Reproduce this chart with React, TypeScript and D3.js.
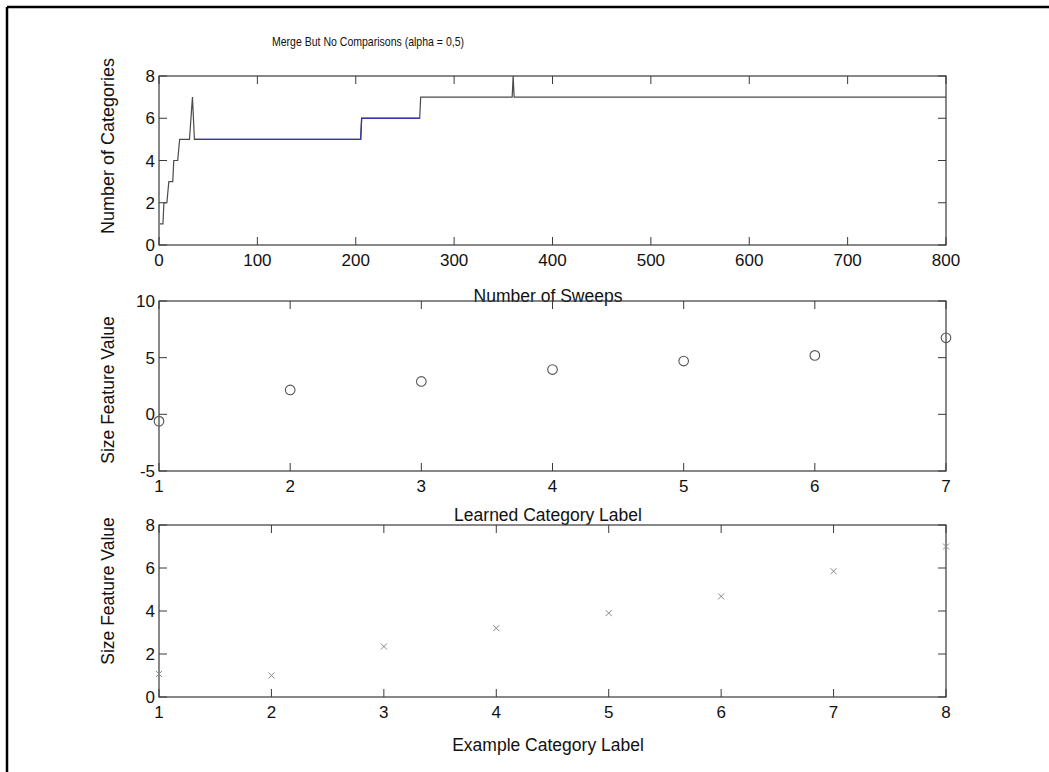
import React from "react";
import * as d3 from "d3";

// Top panel: number of categories over sweeps (trace vertices)
const sweepSteps = [1, 4, 5, 8, 10, 14, 15, 19, 21, 31, 34, 36, 205, 206, 265, 266, 359, 360, 361, 800];
const categoryCounts = [1, 1, 2, 2, 3, 3, 4, 4, 5, 5, 7, 5, 5, 6, 6, 7, 7, 8, 7, 7];
const sweepTicks = [0, 100, 200, 300, 400, 500, 600, 700, 800];
const categoryTicks = [0, 2, 4, 6, 8];

// Middle panel: size feature per learned category
const learnedLabels = [1, 2, 3, 4, 5, 6, 7];
const learnedSizes = [-0.6, 2.15, 2.9, 3.95, 4.7, 5.2, 6.75];
const learnedYTicks = [-5, 0, 5, 10];

// Bottom panel: size feature per example category
const exampleLabels = [1, 2, 3, 4, 5, 6, 7, 8];
const exampleSizes = [1.07, 1.0, 2.35, 3.2, 3.9, 4.68, 5.85, 7.0];
const exampleYTicks = [0, 2, 4, 6, 8];

const FONT = "'Liberation Sans', Arial, sans-serif";
const AXIS = "#3a3a3a";
const TICK_FS = 17;
const LABEL_FS = 17.5;
const X0 = 159;
const X1 = 946;

type Frame = {
  x: d3.ScaleLinear<number, number>;
  y: d3.ScaleLinear<number, number>;
  xTicks: number[];
  yTicks: number[];
};

function AxesBox({ x, y, xTicks, yTicks }: Frame) {
  const [xa, xb] = x.range();
  const [yb, ya] = y.range();
  const tl = 8;
  return (
    <g>
      <rect x={xa} y={ya} width={xb - xa} height={yb - ya} fill="none" stroke={AXIS} strokeWidth={1.2} />
      {xTicks.map((t) => (
        <g key={"x" + t}>
          <line x1={x(t)} x2={x(t)} y1={yb} y2={yb - tl} stroke={AXIS} />
          <line x1={x(t)} x2={x(t)} y1={ya} y2={ya + tl} stroke={AXIS} />
          <text x={x(t)} y={yb + 21} textAnchor="middle" fontSize={TICK_FS} fontFamily={FONT} fill="#111">
            {t}
          </text>
        </g>
      ))}
      {yTicks.map((t) => (
        <g key={"y" + t}>
          <line x1={xa} x2={xa + tl} y1={y(t)} y2={y(t)} stroke={AXIS} />
          <line x1={xb} x2={xb - tl} y1={y(t)} y2={y(t)} stroke={AXIS} />
          <text x={xa - 4} y={y(t) + 6} textAnchor="end" fontSize={TICK_FS} fontFamily={FONT} fill="#111">
            {t}
          </text>
        </g>
      ))}
    </g>
  );
}

function YLabel({ text, cy, size = LABEL_FS }: { text: string; cy: number; size?: number }) {
  return (
    <text
      transform={`translate(114,${cy}) rotate(-90)`}
      textAnchor="middle"
      fontSize={size}
      fontFamily={FONT}
      fill="#111"
    >
      {text}
    </text>
  );
}

export default function App() {
  // scales
  const xTop = d3.scaleLinear().domain([0, 800]).range([X0, X1]);
  const yTop = d3.scaleLinear().domain([0, 8]).range([245, 76]);
  const xMid = d3.scaleLinear().domain([1, 7]).range([X0, X1]);
  const yMid = d3.scaleLinear().domain([-5, 10]).range([471, 301]);
  const xBot = d3.scaleLinear().domain([1, 8]).range([X0, X1]);
  const yBot = d3.scaleLinear().domain([0, 8]).range([697, 525]);

  const trace = sweepSteps.map((s, i) => [s, categoryCounts[i]] as [number, number]);
  const line = d3
    .line<[number, number]>()
    .x((d) => xTop(d[0]))
    .y((d) => yTop(d[1]));
  // long plateaus at 5 and 6 categories rendered in blue
  const plateau = trace.filter((d) => d[0] >= 36 && d[0] <= 265);

  return (
    <svg
      width={1049}
      height={772}
      style={{ position: "absolute", left: 0, top: 0, background: "#fff" }}
    >
      <rect x={0} y={0} width={1049} height={772} fill="#fff" />
      {/* page frame */}
      <line x1={7} x2={1049} y1={7} y2={7} stroke="#000" strokeWidth={2.5} />
      <line x1={7} x2={7} y1={7} y2={772} stroke="#000" strokeWidth={2.5} />

      <text
        x={272}
        y={46}
        fontSize={13.5}
        fontFamily={FONT}
        fill="#111"
        textLength={192}
        lengthAdjust="spacingAndGlyphs"
      >
        Merge But No Comparisons (alpha = 0,5)
      </text>

      {/* top panel */}
      <AxesBox x={xTop} y={yTop} xTicks={sweepTicks} yTicks={categoryTicks} />
      <path d={line(trace) || ""} fill="none" stroke="#4a4a4a" strokeWidth={1.2} />
      <path d={line(plateau) || ""} fill="none" stroke="#3535b0" strokeWidth={1.3} />
      <YLabel text="Number of Categories" cy={146} size={18} />
      <text x={548} y={302} textAnchor="middle" fontSize={LABEL_FS} fontFamily={FONT} fill="#111">
        Number of Sweeps
      </text>

      {/* middle panel */}
      <AxesBox x={xMid} y={yMid} xTicks={learnedLabels} yTicks={learnedYTicks} />
      {learnedLabels.map((c, i) => (
        <circle key={c} cx={xMid(c)} cy={yMid(learnedSizes[i])} r={4.8} fill="none" stroke="#555" strokeWidth={1.1} />
      ))}
      <YLabel text="Size Feature Value" cy={390} />
      <text x={548} y={521} textAnchor="middle" fontSize={LABEL_FS} fontFamily={FONT} fill="#111">
        Learned Category Label
      </text>

      {/* bottom panel */}
      <AxesBox x={xBot} y={yBot} xTicks={exampleLabels} yTicks={exampleYTicks} />
      {exampleLabels.map((c, i) => {
        const cx = xBot(c);
        const cy = yBot(exampleSizes[i]);
        const s = 3;
        return (
          <g key={c} stroke="#888" strokeWidth={1}>
            <line x1={cx - s} x2={cx + s} y1={cy - s} y2={cy + s} />
            <line x1={cx - s} x2={cx + s} y1={cy + s} y2={cy - s} />
          </g>
        );
      })}
      <YLabel text="Size Feature Value" cy={591} />
      <text x={548} y={751} textAnchor="middle" fontSize={LABEL_FS} fontFamily={FONT} fill="#111">
        Example Category Label
      </text>
    </svg>
  );
}
